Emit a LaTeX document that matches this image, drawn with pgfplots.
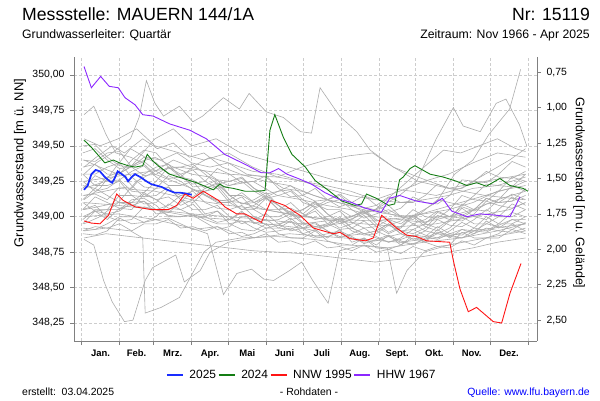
\documentclass[border=0pt]{standalone}
\usepackage{fontspec}
\setmainfont{Liberation Sans}
\usepackage{pgfplots}
\usepackage{pgfplotstable}
\pgfplotsset{compat=1.18}
\definecolor{gridc}{RGB}{205,205,205}
\definecolor{axc}{RGB}{128,128,128}
\definecolor{greyl}{RGB}{172,172,172}
\definecolor{c2025}{RGB}{25,45,255}
\definecolor{c2024}{RGB}{20,125,20}
\definecolor{cnnw}{RGB}{255,20,20}
\definecolor{chhw}{RGB}{140,40,255}
\definecolor{quelle}{RGB}{0,0,255}
\pgfplotsset{numfmt/.style={/pgf/number format/fixed, /pgf/number format/fixed zerofill, /pgf/number format/precision=2, /pgf/number format/use comma, /pgf/number format/assume math mode=true}}

\pgfplotstableread{
day L1 L2 L3 L4 L5 L6 L7 L8 L9 L10 L11 L12 L13 L14 L15 L16 L17 L18 L19 L20
1 349.45 349.30 349.20 349.10 349.00 348.95 348.88 349.35 349.25 349.05 349.15 348.92 349.40 349.05 348.98 349.22 349.12 348.90 349.30 349.50
11 349.48 349.30 349.29 349.04 349.04 349.04 348.87 349.37 349.18 349.14 349.16 348.91 349.39 349.08 349.05 349.20 349.20 348.93 349.22 349.51
21 349.40 349.35 349.25 349.05 349.02 348.98 348.90 349.30 349.20 349.10 349.12 348.95 349.45 349.00 349.05 349.28 349.15 348.92 349.22 349.42
31 349.34 349.38 349.26 349.15 349.04 349.06 348.99 349.30 349.26 349.06 349.21 349.00 349.46 348.97 349.05 349.32 349.10 348.95 349.25 349.36
41 349.35 349.28 349.32 349.15 349.10 349.05 348.95 349.40 349.18 349.08 349.20 349.00 349.35 348.98 349.12 349.22 349.10 348.90 349.15 349.35
51 349.42 349.21 349.36 349.14 349.11 349.16 348.96 349.47 349.17 349.11 349.30 348.96 349.29 349.07 349.13 349.14 349.17 348.95 349.09 349.39
61 349.38 349.20 349.28 349.20 349.05 349.12 349.00 349.45 349.25 349.02 349.35 348.98 349.30 349.05 349.08 349.15 349.12 348.95 349.10 349.32
71 349.30 349.29 349.22 349.21 349.01 349.14 349.09 349.35 349.35 349.03 349.37 348.99 349.35 349.08 349.00 349.21 349.06 348.98 349.19 349.27
81 349.30 349.25 349.22 349.12 349.00 349.08 349.05 349.35 349.30 349.10 349.28 348.95 349.28 349.15 349.00 349.12 349.05 348.92 349.15 349.28
91 349.33 349.19 349.25 349.05 349.02 349.12 349.01 349.37 349.21 349.19 349.26 348.91 349.23 349.18 349.01 349.10 349.09 348.93 349.14 349.35
101 349.25 349.18 349.15 349.05 348.98 349.02 349.00 349.30 349.22 349.15 349.20 348.92 349.25 349.10 348.96 349.18 349.00 348.90 349.20 349.32
111 349.20 349.20 349.11 349.08 348.95 349.04 349.04 349.23 349.26 349.10 349.23 348.93 349.34 349.06 348.91 349.22 348.96 348.93 349.24 349.26
121 349.22 349.10 349.12 349.00 348.95 348.98 348.95 349.25 349.15 349.10 349.15 348.90 349.30 349.05 348.93 349.12 348.98 348.88 349.15 349.25
131 349.25 349.05 349.17 348.95 348.97 349.04 348.91 349.27 349.09 349.14 349.15 348.86 349.24 349.08 349.00 349.05 349.03 348.89 349.09 349.28
141 349.18 349.05 349.10 348.98 348.92 348.95 348.90 349.20 349.12 349.05 349.10 348.88 349.25 349.00 349.00 349.08 348.96 348.85 349.10 349.20
151 349.13 349.13 349.05 349.02 348.89 348.98 348.95 349.14 349.17 349.00 349.13 348.92 349.29 348.97 348.94 349.14 348.92 348.88 349.15 349.16
161 349.15 349.08 349.05 348.95 348.90 348.92 348.88 349.18 349.08 349.00 349.05 348.92 349.20 348.98 348.95 349.05 348.94 348.82 349.08 349.18
171 349.18 349.01 349.10 348.90 348.92 348.97 348.85 349.19 349.02 349.04 349.06 348.91 349.14 349.02 348.97 348.98 348.99 348.83 349.03 349.22
181 349.10 349.00 349.02 348.92 348.88 348.88 348.85 349.12 349.05 348.96 349.02 348.95 349.15 348.95 348.92 349.00 348.92 348.80 349.05 349.15
191 349.07 349.04 348.98 348.96 348.85 348.91 348.90 349.06 349.11 348.93 349.09 348.95 349.20 348.92 348.86 349.06 348.90 348.83 349.10 349.11
201 349.12 348.95 349.00 348.90 348.86 348.85 348.83 349.10 349.02 348.95 349.05 348.90 349.12 348.93 348.88 348.98 348.94 348.78 349.02 349.12
211 349.15 348.91 349.04 348.85 348.89 348.91 348.80 349.12 348.95 349.00 349.05 348.86 349.07 348.97 348.90 348.92 348.99 348.79 348.97 349.16
221 349.08 348.92 348.96 348.88 348.85 348.82 348.80 349.05 348.98 348.92 349.00 348.87 349.10 348.90 348.86 348.95 348.92 348.76 349.00 349.10
231 349.03 348.97 348.92 348.92 348.82 348.85 348.85 348.99 349.04 348.88 349.04 348.88 349.15 348.87 348.81 349.01 348.88 348.80 349.05 349.06
241 349.05 348.90 348.93 348.86 348.83 348.80 348.78 349.02 348.95 348.90 348.97 348.85 349.08 348.88 348.84 348.93 348.90 348.75 348.98 349.08
251 349.08 348.86 348.98 348.82 348.86 348.87 348.77 349.05 348.89 348.95 348.98 348.82 349.03 348.94 348.87 348.88 348.95 348.77 348.94 349.14
261 349.00 348.88 348.90 348.85 348.82 348.80 348.80 349.00 348.93 348.88 348.95 348.84 349.06 348.90 348.83 348.92 348.88 348.74 348.97 349.10
271 348.95 348.95 348.88 348.91 348.81 348.85 348.87 348.98 349.01 348.86 349.01 348.87 349.14 348.91 348.80 349.00 348.84 348.79 349.05 349.10
281 348.98 348.90 348.92 348.87 348.84 348.82 348.82 349.05 348.95 348.90 348.96 348.86 349.10 348.95 348.85 348.93 348.86 348.76 349.00 349.15
291 349.04 348.88 349.01 348.85 348.88 348.91 348.79 349.12 348.92 348.98 349.00 348.84 349.09 349.03 348.89 348.90 348.93 348.79 348.99 349.23
301 349.00 348.92 348.98 348.90 348.86 348.85 348.80 349.10 348.98 348.94 349.00 348.88 349.15 349.00 348.87 348.97 348.88 348.78 349.05 349.20
311 348.99 349.00 348.97 348.96 348.85 348.91 348.89 349.08 349.09 348.93 349.07 348.91 349.26 349.01 348.85 349.06 348.87 348.83 349.15 349.20
321 349.05 348.95 349.02 348.92 348.88 348.88 348.85 349.15 349.05 348.98 349.04 348.90 349.25 349.05 348.90 349.00 348.92 348.80 349.12 349.25
331 349.13 348.95 349.11 348.90 348.92 348.97 348.85 349.23 349.04 349.05 349.09 348.89 349.24 349.13 348.95 348.98 349.00 348.85 349.11 349.32
341 349.10 349.00 349.08 348.95 348.90 348.92 348.88 349.22 349.12 349.00 349.10 348.94 349.30 349.10 348.93 349.05 348.95 348.85 349.18 349.28
352 349.11 349.09 349.06 349.03 348.89 348.98 348.95 349.21 349.22 349.00 349.16 348.98 349.39 349.11 348.91 349.14 348.95 348.91 349.28 349.27
363 349.20 349.05 349.10 349.00 348.92 348.95 348.90 349.30 349.18 349.05 349.12 348.98 349.35 349.15 348.96 349.08 349.00 348.88 349.25 349.32
}\greydata

\begin{document}
\begin{tikzpicture}[x=1bp,y=1bp]
\path[use as bounding box] (0,0) rectangle (600,400);
% header
\node[anchor=base west, inner sep=0, font=\fontsize{17.7}{18}\selectfont] at (22,380) {Messstelle: MAUERN 144/1A};
\node[anchor=base east, inner sep=0, font=\fontsize{17.7}{18}\selectfont] at (590,380) {Nr: 15119};
\node[anchor=base west, inner sep=0, font=\fontsize{12.3}{13}\selectfont] at (22,362) {Grundwasserleiter: Quartär};
\node[anchor=base east, inner sep=0, font=\fontsize{12.3}{13}\selectfont] at (590,362) {Zeitraum: Nov 1966 - Apr 2025};
% axis labels
\node[rotate=90, inner sep=0, font=\fontsize{13}{13}\selectfont] at (20,237) {Grundwasserstand [m ü. NN]};
\node[rotate=-90, inner sep=0, font=\fontsize{12.5}{13}\selectfont] at (579,207) {Grundwasserstand [m u. Gelände]};
% footer
\node[anchor=base west, inner sep=0, font=\fontsize{10.5}{11}\selectfont] at (22,5) {erstellt:\ \ 03.04.2025};
\node[anchor=base, inner sep=0, font=\fontsize{10.5}{11}\selectfont] at (309,5) {- Rohdaten -};
\node[anchor=base east, inner sep=0, font=\fontsize{10.5}{11}\selectfont, text=quelle] at (590,5) {Quelle: www.lfu.bayern.de};

\begin{axis}[
  at={(74bp,59bp)}, anchor=south west, scale only axis,
  width=463bp, height=284bp,
  xmin=-6.2, xmax=372.4, ymin=348.123, ymax=350.127,
  axis x line*=bottom, axis y line*=left,
  axis line style={-, draw=axc, line width=0.9bp},
  xtick={0,31,59,90,120,151,181,212,243,273,304,334,365},
  xticklabels={Jan.,Feb.,Mrz.,Apr.,Mai,Juni,Juli,Aug.,Sept.,Okt.,Nov.,Dez.},
  x tick label as interval,
  ytick={348.25,348.5,348.75,349,349.25,349.5,349.75,350},
  scaled y ticks=false,
  yticklabel style={numfmt},
  tick align=outside, major tick length=4bp,
  tick style={draw=axc, line width=0.6bp},
  grid=major, grid style={draw=gridc, line width=0.5bp, dash pattern=on 3bp off 2bp},
  y tick label style={font=\fontsize{10.5}{11}\selectfont, xshift=-2bp},
  x tick label style={font=\bfseries\fontsize{9.5}{10}\selectfont, yshift=-1bp},
  legend style={at={(0.492,-0.12)}, anchor=center, draw=none, fill=none,
    legend columns=4, font=\fontsize{12}{12}\selectfont,
    /tikz/every even column/.append style={column sep=0bp},
    /tikz/every odd column/.append style={column sep=4bp}},
  legend image code/.code={\draw[#1, line width=1.3bp] (0bp,0bp) -- (16bp,0bp);},
  greyline/.style={draw=greyl, line width=0.6bp, forget plot},
]
\pgfplotsinvokeforeach{L1,L2,L3,L4,L5,L6,L7,L8,L9,L10,L11,L12,L13,L14,L15,L16,L17,L18,L19,L20}{
  \addplot[greyline] table[x=day, y=#1] {\greydata};
}
% distinctive grey years
\addplot[greyline] coordinates {(2,349.72)(10,349.78)(20,349.58)(28,349.45)(40,349.42)(50,349.38)(60,349.30)(75,349.25)(90,349.20)(110,349.12)(130,349.10)(150,349.05)(170,349.02)(200,348.98)(230,348.95)(260,348.93)(290,348.95)(320,349.00)(350,349.05)(363,349.10)};
\addplot[greyline] coordinates {(2,349.30)(12,349.38)(25,349.45)(40,349.55)(47,349.70)(53,349.96)(60,349.80)(67,349.71)(80,349.78)(91,349.67)(99,349.71)(116,349.84)(129,349.76)(137,349.87)(151,349.74)(165,349.70)(179,349.60)(188,349.59)(195,349.91)(211,349.71)(225,349.60)(236,349.47)(255,349.35)(275,349.28)(300,349.20)(330,349.15)(362,349.12)};
\addplot[greyline] coordinates {(2,349.05)(30,349.10)(60,349.05)(90,349.00)(120,348.98)(150,348.95)(180,348.92)(210,348.95)(240,349.05)(260,349.15)(274,349.25)(290,349.55)(304,349.77)(312,349.64)(326,349.60)(339,349.80)(347,349.83)(358,349.65)(364,349.50)};
\addplot[greyline] coordinates {(2,349.15)(30,349.20)(60,349.18)(90,349.12)(120,349.08)(150,349.05)(180,349.00)(210,348.98)(240,348.97)(270,349.00)(290,349.10)(305,349.30)(320,349.40)(333,349.58)(350,349.76)(359,350.04)};
\addplot[greyline] coordinates {(2,348.84)(10,348.80)(18,348.55)(25,348.40)(35,348.26)(42,348.27)(52,348.55)(58,348.64)(77,348.73)(84,348.54)(97,348.62)(105,348.75)(120,348.82)(140,348.85)(170,348.88)(200,348.86)(230,348.84)(260,348.82)(290,348.85)(320,348.90)(363,348.95)};
\addplot[greyline] coordinates {(2,348.90)(20,348.92)(40,348.90)(50,348.85)(52,348.32)(65,348.36)(80,348.43)(92,348.62)(100,348.75)(110,348.82)(130,348.85)(160,348.86)(190,348.84)(220,348.80)(250,348.78)(280,348.82)(310,348.85)(340,348.90)(363,348.95)};
\addplot[greyline] coordinates {(2,349.00)(30,349.02)(60,348.98)(90,348.92)(103,348.88)(116,348.45)(127,348.60)(139,348.63)(149,348.56)(157,348.55)(170,348.62)(180,348.68)(189,348.55)(201.6,348.39)(211,348.76)(230,348.80)(250,348.78)(257.6,348.46)(266,348.62)(280,348.75)(300,348.80)(330,348.85)(363,348.90)};
\addplot[greyline] coordinates {(2,349.55)(15,349.50)(30,349.55)(45,349.62)(60,349.50)(80,349.45)(100,349.40)(120,349.45)(140,349.35)(160,349.28)(180,349.25)(200,349.20)(220,349.15)(240,349.12)(260,349.18)(280,349.25)(300,349.30)(320,349.38)(340,349.45)(363,349.42)};
\addplot[greyline] coordinates {(2,349.20)(20,349.25)(40,349.35)(60,349.55)(75,349.62)(90,349.50)(110,349.55)(130,349.45)(150,349.40)(170,349.35)(190,349.30)(210,349.25)(230,349.22)(250,349.20)(270,349.18)(290,349.15)(310,349.20)(330,349.30)(350,349.40)(363,349.48)};
\addplot[greyline] coordinates {(2,349.10)(30,349.08)(60,349.05)(90,349.02)(120,349.00)(150,348.98)(180,348.95)(210,348.98)(240,349.05)(260,349.20)(280,349.35)(296,349.47)(310,349.45)(325,349.50)(340,349.55)(355,349.48)(363,349.46)};
\addplot[greyline] coordinates {(2,348.85)(20,348.88)(40,348.86)(60,348.84)(80,348.82)(100,348.80)(120,348.78)(140,348.76)(160,348.75)(180,348.74)(200,348.72)(220,348.70)(240,348.68)(260,348.70)(280,348.72)(300,348.75)(320,348.78)(340,348.82)(363,348.85)};
\addplot[greyline] coordinates {(2,349.25)(40,349.30)(80,349.35)(120,349.30)(160,349.28)(180,349.35)(200,349.40)(219,349.43)(238,349.45)(255,349.35)(275,349.25)(300,349.20)(330,349.25)(363,349.30)};
\addplot[greyline] coordinates {(2,349.35)(12,349.42)(25,349.50)(35,349.45)(50,349.55)(62,349.48)(75,349.52)(88,349.42)(100,349.45)(115,349.35)(130,349.30)(150,349.25)(170,349.22)(190,349.15)(210,349.10)(230,349.05)(250,349.02)(270,349.00)(290,349.05)(310,349.10)(330,349.15)(350,349.20)(363,349.25)};
\addplot[greyline] coordinates {(2,349.12)(15,349.20)(28,349.35)(40,349.48)(52,349.42)(65,349.40)(78,349.45)(90,349.38)(105,349.35)(120,349.38)(135,349.30)(150,349.28)(165,349.20)(180,349.18)(200,349.12)(220,349.08)(240,349.05)(260,349.00)(280,349.02)(300,349.05)(320,349.10)(340,349.18)(363,349.22)};
\addplot[greyline] coordinates {(2,348.95)(15,349.00)(30,349.10)(45,349.25)(60,349.32)(75,349.40)(90,349.35)(105,349.42)(120,349.38)(140,349.32)(160,349.30)(180,349.25)(200,349.22)(220,349.18)(240,349.12)(260,349.10)(280,349.12)(300,349.15)(320,349.20)(340,349.22)(363,349.28)};
\addplot[greyline] coordinates {(2,349.40)(15,349.35)(30,349.30)(45,349.38)(60,349.42)(75,349.35)(90,349.30)(105,349.28)(120,349.22)(140,349.25)(160,349.15)(180,349.12)(200,349.08)(220,349.05)(240,349.00)(260,348.98)(280,348.96)(300,349.00)(320,349.05)(340,349.12)(363,349.18)};

% highlighted series
\addplot[draw=c2025, line width=1.7bp] coordinates {(2,349.19)(5,349.22)(8,349.30)(11.5,349.33)(15,349.32)(19,349.28)(23,349.25)(25,349.24)(27,349.27)(29.5,349.32)(33,349.30)(36,349.28)(38,349.25)(41,349.28)(43.7,349.30)(48,349.28)(53,349.25)(57,349.23)(61,349.22)(65.5,349.21)(70,349.19)(76,349.17)(80,349.17)(84.5,349.165)(90,349.155)};
\addlegendentry{2025}
\addplot[draw=c2024, line width=0.9bp] coordinates {(2,349.54)(8,349.49)(15,349.42)(19,349.38)(26,349.40)(31,349.38)(38,349.36)(43.7,349.35)(50,349.36)(53.7,349.44)(58.6,349.39)(64,349.35)(72,349.30)(83,349.27)(94,349.24)(107.7,349.19)(113,349.23)(117,349.21)(124,349.20)(133.6,349.18)(143,349.18)(150,349.185)(154,349.61)(158,349.72)(165,349.56)(172,349.44)(183,349.35)(191,349.255)(202,349.185)(213,349.11)(223.5,349.08)(229,349.09)(233,349.16)(241,349.13)(251,349.08)(256,349.09)(260,349.26)(263,349.28)(268.6,349.34)(272.6,349.36)(285,349.30)(295.7,349.28)(306.7,349.25)(315,349.22)(323,349.24)(331,349.215)(342,349.27)(350.3,349.22)(361,349.20)(365,349.18)};
\addlegendentry{2024}
\addplot[draw=cnnw, line width=0.9bp] coordinates {(2,348.97)(8,348.955)(15,348.95)(22,349.01)(28.7,349.16)(34,349.115)(43.7,349.07)(57,349.05)(71,349.05)(77.8,349.08)(84.5,349.16)(91.3,349.13)(99.5,349.18)(112,349.115)(117,349.07)(126.8,349.02)(133.6,349.02)(147,348.96)(155,349.115)(166,349.08)(178.6,349.01)(189.5,348.92)(205.8,348.88)(211.3,348.89)(219.5,348.845)(232,348.83)(238.5,348.85)(245.4,349.01)(257.6,348.92)(265.8,348.87)(274,348.86)(282,348.83)(301,348.82)(304,348.69)(309.4,348.49)(316.2,348.33)(323,348.36)(336.6,348.26)(343.5,348.25)(350.3,348.46)(359.3,348.67)};
\addlegendentry{NNW 1995}
\addplot[draw=chhw, line width=0.9bp] coordinates {(2,350.06)(8,349.91)(15.6,349.99)(22.6,349.92)(30,349.91)(35.5,349.84)(43.7,349.79)(50,349.72)(58.6,349.71)(72,349.655)(88.6,349.61)(102,349.55)(113,349.47)(117,349.44)(133.6,349.37)(147,349.31)(154,349.31)(161,349.34)(168,349.30)(177,349.27)(188,349.23)(199,349.17)(210,349.125)(221,349.10)(232,349.06)(245,349.03)(252,349.13)(260,349.15)(274,349.11)(287.6,349.09)(295,349.13)(302.6,349.04)(315,349.00)(325.8,349.02)(339.4,349.01)(350.3,349.00)(358.5,349.14)};
\addlegendentry{HHW 1967}
\end{axis}

\begin{axis}[
  at={(74bp,59bp)}, anchor=south west, scale only axis,
  width=463bp, height=284bp,
  xmin=-6.2, xmax=372.4, ymin=0.643, ymax=2.647, y dir=reverse,
  axis x line=none, axis y line*=right,
  axis line style={-, draw=axc, line width=0.9bp},
  ytick={0.75,1,1.25,1.5,1.75,2,2.25,2.5},
  scaled y ticks=false,
  yticklabel style={numfmt},
  tick align=outside, major tick length=4bp,
  tick style={draw=axc, line width=0.6bp},
  y tick label style={font=\fontsize{10.5}{11}\selectfont, xshift=2bp},
]
\addplot[draw=none, forget plot] coordinates {(0,1)(365,2)};
\end{axis}
\end{tikzpicture}
\end{document}
